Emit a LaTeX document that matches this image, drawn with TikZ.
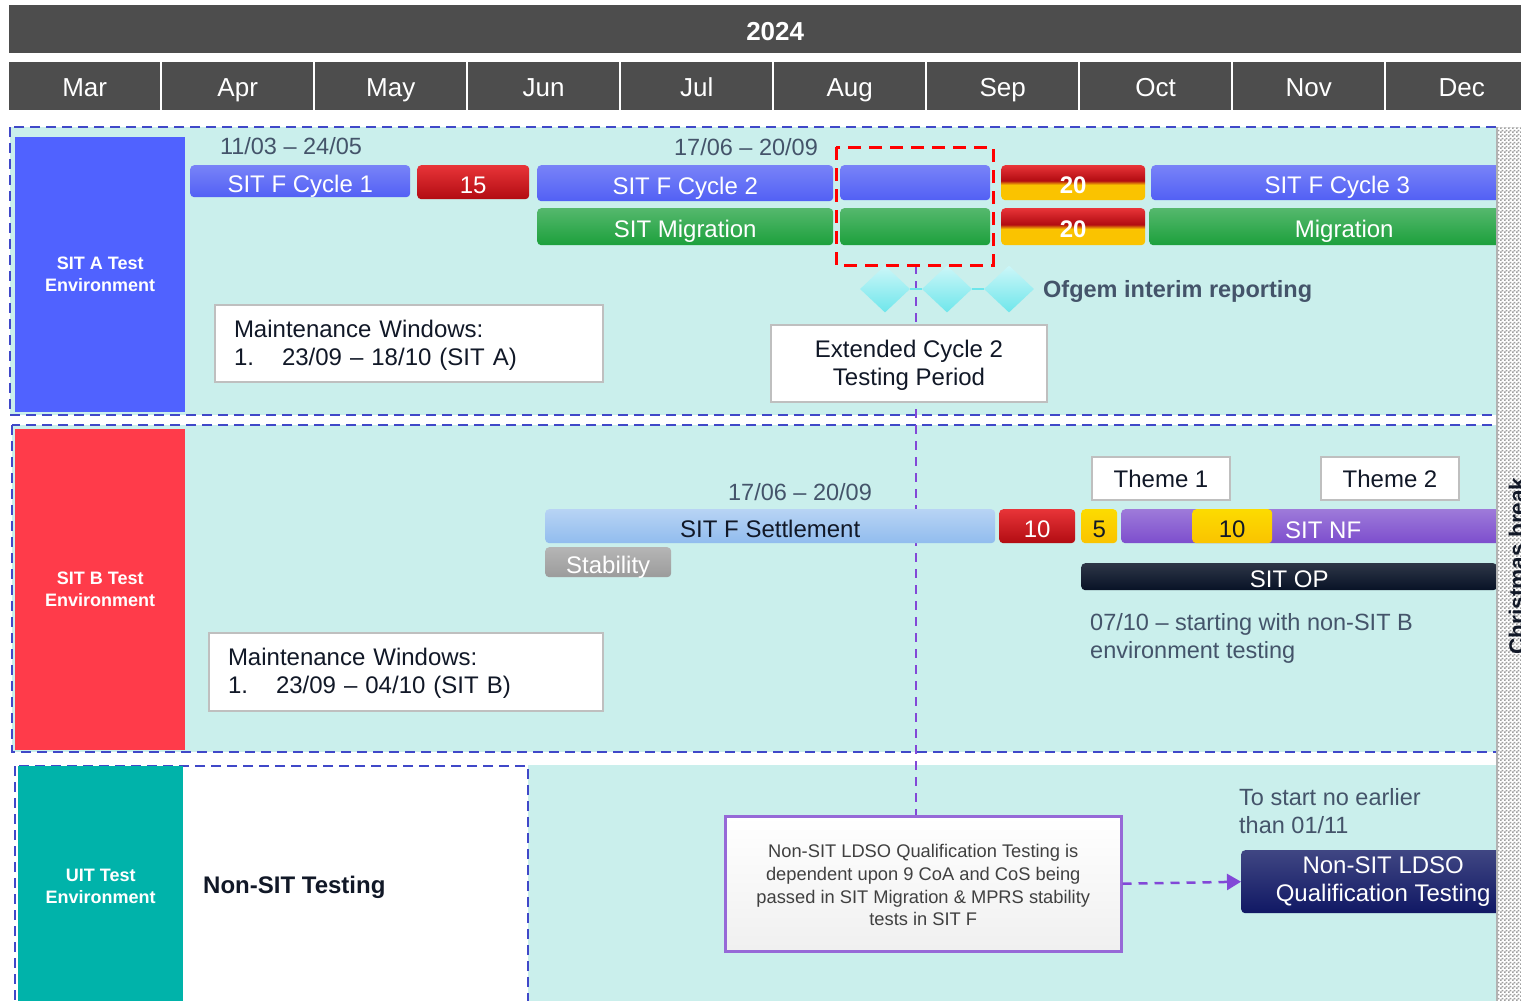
\documentclass[tikz,border=0pt]{standalone}
\usepackage{fontspec}
\setmainfont{Liberation Sans}
\usetikzlibrary{arrows.meta}
\usetikzlibrary{shapes.geometric, patterns}
\definecolor{hdrgray}{RGB}{77,77,77}
\definecolor{paneltea}{RGB}{202,239,236}
\definecolor{envblue}{RGB}{80,98,255}
\definecolor{envred}{RGB}{255,59,74}
\definecolor{envteal}{RGB}{0,179,170}
\definecolor{dashblue}{RGB}{64,72,200}
\definecolor{barblue}{RGB}{82,96,245}
\definecolor{bargreen}{RGB}{28,160,60}
\definecolor{barred}{RGB}{178,12,18}
\definecolor{barredtop}{RGB}{232,52,56}
\definecolor{bargold}{RGB}{250,195,0}
\definecolor{barsky}{RGB}{145,188,238}
\definecolor{barpurple}{RGB}{125,78,205}
\definecolor{barnavy}{RGB}{8,18,38}
\definecolor{ldsonavy}{RGB}{16,24,100}
\definecolor{slate}{RGB}{68,84,106}
\definecolor{inkdark}{RGB}{17,24,39}
\definecolor{vpurple}{RGB}{130,72,215}
\definecolor{notepurple}{RGB}{150,105,215}
\definecolor{gemcyan}{RGB}{110,230,235}
\pgfdeclareverticalshading{redgold}{100bp}{color(0bp)=(bargold); color(47bp)=(bargold); color(53bp)=(barred); color(75bp)=(barredtop); color(100bp)=(barredtop)}
\pgfdeclarepatternformonly{finechecker}{\pgfpointorigin}{\pgfqpoint{4pt}{4pt}}{\pgfqpoint{4pt}{4pt}}{%
	\pgfpathrectangle{\pgfpointorigin}{\pgfqpoint{2pt}{2pt}}%
	\pgfpathrectangle{\pgfqpoint{2pt}{2pt}}{\pgfqpoint{2pt}{2pt}}%
	\pgfusepath{fill}}

\begin{document}
\begin{tikzpicture}[x=1pt, y=-1pt,
	barbase/.style={rounded corners=4pt, anchor=north west, inner sep=0pt, text=white, font=\fontsize{24}{28}\selectfont},
	bar/.style={barbase, text height=22pt, text depth=0pt},
	bluebar/.style={bar, top color=barblue!78!white, bottom color=barblue},
	greenbar/.style={bar, top color=bargreen!75!white, bottom color=bargreen},
	redbar/.style={bar, top color=barredtop, bottom color=barred},
	goldbar/.style={bar, top color=bargold!60!yellow, bottom color=bargold, text=inkdark},
	splitbar/.style={bar, shading=redgold, font=\bfseries\fontsize{24}{28}\selectfont},
	skybar/.style={bar, top color=barsky!65!white, bottom color=barsky, text=inkdark},
	graybar/.style={bar, top color=gray!58, bottom color=gray!78},
	purplebar/.style={bar, top color=barpurple!75!white, bottom color=barpurple},
	navybar/.style={bar, top color=barnavy!85!white, bottom color=barnavy},
	month/.style={fill=hdrgray, anchor=north west, minimum width=151, minimum height=48, inner sep=0pt, text height=20pt, text depth=0pt, text=white, font=\fontsize{26}{26}\selectfont},
	panel/.style={draw=dashblue, line width=2.5pt, dash pattern=on 10pt off 6pt, fill=paneltea},
	envlabel/.style={anchor=north west, inner sep=0pt, align=center, text=white, font=\bfseries\fontsize{18}{22}\selectfont},
	wbox/.style={draw=gray!50, line width=2pt, fill=white, anchor=north west, inner sep=0pt, text=inkdark, font=\fontsize{24}{28}\selectfont},
	datetext/.style={text=slate, inner sep=0pt, font=\fontsize{23.5}{28}\selectfont},
	gem/.style={diamond, inner sep=0pt, minimum width=50, minimum height=47, top color=gemcyan!35!white, bottom color=gemcyan},
	vline/.style={vpurple, line width=2.5pt, dash pattern=on 9pt off 7pt}
]
	\useasboundingbox (0,0) rectangle (1521,1001);
	\clip (0,0) rectangle (1521,1001);

	% header
	\node[fill=hdrgray, anchor=north west, minimum width=1532, minimum height=48, inner sep=0pt, text height=22pt, text depth=0pt, text=white, font=\bfseries\fontsize{26}{26}\selectfont] (year) at (9,5) {2024};
	\foreach \m [count=\i from 0] in {Mar,Apr,May,Jun,Jul,Aug,Sep,Oct,Nov,Dec}
		\node[month] (m\i) at ({9+153*\i},62) {\m};

	% panels
	\draw[panel] (10,127) rectangle (1497,415);
	\draw[panel] (12,425) rectangle (1497,752);
	\fill[paneltea] (528,765) rectangle (1497,1001);
	\draw[panel, fill=white] (15,766) rectangle (528,1012);
	\node[envlabel, fill=envblue, minimum width=170, minimum height=275] (envA) at (15,137) {SIT A Test\\Environment};
	\node[envlabel, fill=envred, minimum width=170, minimum height=321] (envB) at (15,429) {SIT B Test\\Environment};
	\node[envlabel, fill=envteal, minimum width=165, minimum height=240] (envU) at (18,766) {UIT Test\\Environment};

	\coordinate (vtop) at (916,265);
	\coordinate (vbot) at (916,815);
	\draw[vline] (vtop) -- (vbot);

	% SIT A
	\node[datetext] (dA1) at (291,146) {11/03 -- 24/05};
	\node[datetext] (dA2) at (746,147) {17/06 -- 20/09};
	\node[bluebar, minimum width=220, minimum height=32] (cyc1) at (190,165) {SIT F Cycle 1};
	\node[redbar, minimum width=112, minimum height=34] (gap15) at (417,165) {15};
	\node[bluebar, minimum width=296, minimum height=36] (cyc2) at (537,165) {SIT F Cycle 2};
	\node[bluebar, minimum width=150, minimum height=35] (cyc2x) at (840,165) {};
	\node[splitbar, minimum width=144, minimum height=35] (gap20a) at (1001,165) {20};
	\node[bluebar, minimum width=372, minimum height=35] (cyc3) at (1151,165) {SIT F Cycle 3};
	\node[greenbar, minimum width=296, minimum height=37] (mig) at (537,208) {SIT Migration};
	\node[greenbar, minimum width=150, minimum height=37] (migx) at (840,208) {};
	\node[splitbar, minimum width=144, minimum height=37] (gap20b) at (1001,208) {20};
	\node[greenbar, minimum width=390, minimum height=37] (mig3) at (1149,208) {Migration};
	\draw[red, line width=3pt, dash pattern=on 13pt off 8pt] (836,147) rectangle (993,265);

	\foreach \x [count=\i] in {885,947,1009}
		\node[gem] (gem\i) at (\x,289) {};
	\draw[gemcyan, line width=2pt] (gem1.east) -- (gem2.west) (gem2.east) -- (gem3.west);
	\node[anchor=west, inner sep=0pt, text=slate, font=\bfseries\fontsize{23.5}{28}\selectfont] (ofgem) at (1043,291) {Ofgem interim reporting};

	\node[wbox, minimum width=388, minimum height=77, text width=350, inner xsep=19, align=left] (mwA) at (214,304) {\rule{0pt}{20pt}Maintenance Windows:\\1.\hspace{28pt}23/09 -- 18/10 (SIT A)};
	\node[wbox, minimum width=276, minimum height=77, align=center] (ext) at (770,324) {\rule{0pt}{20pt}Extended Cycle 2\\Testing Period};

	% SIT B
	\node[datetext] (dB) at (800,492) {17/06 -- 20/09};
	\node[wbox, minimum width=138, minimum height=43] (th1) at (1091,456) {Theme 1};
	\node[wbox, minimum width=138, minimum height=43] (th2) at (1320,456) {Theme 2};
	\node[skybar, minimum width=450, minimum height=34] (settle) at (545,509) {SIT F Settlement};
	\node[graybar, minimum width=126, minimum height=30] (stab) at (545,547) {Stability};
	\node[redbar, minimum width=76, minimum height=34] (gap10) at (999,509) {10};
	\node[goldbar, minimum width=36, minimum height=34] (gap5) at (1081,509) {5};
	\node[purplebar, minimum width=419, minimum height=34] (nf) at (1121,509) {};
	\node[goldbar, minimum width=80, minimum height=34] (nf10) at (1192,509) {10};
	\node[anchor=base west, inner sep=0pt, text=white, font=\fontsize{24}{28}\selectfont] (nflbl) at (1285,538) {SIT NF};
	\node[navybar, minimum width=416, minimum height=27] (op) at (1081,563) {SIT OP};
	\node[datetext, anchor=west, align=left] (opnote) at (1090,638) {07/10 -- starting with non-SIT B\\environment testing};
	\node[wbox, minimum width=394, minimum height=78, text width=356, inner xsep=19, align=left] (mwB) at (208,632) {\rule{0pt}{20pt}Maintenance Windows:\\1.\hspace{28pt}23/09 -- 04/10 (SIT B)};

	% UIT
	\node[anchor=west, inner sep=0pt, text=inkdark, font=\bfseries\fontsize{24}{28}\selectfont] (nonsit) at (203,887) {Non-SIT Testing};
	\node[anchor=north west, minimum width=396, minimum height=135, inner sep=0pt, draw=notepurple, line width=2.5pt, top color=white, bottom color=gray!12, align=center, text=black!75, font=\fontsize{18.3}{22.7}\selectfont] (note) at (724,815) {\rule{0pt}{16pt}Non-SIT LDSO Qualification Testing is\\dependent upon 9 CoA and CoS being\\passed in SIT Migration \& MPRS stability\\tests in SIT F};
	\node[datetext, anchor=west, align=left] (nostart) at (1239,811) {To start no earlier\\than 01/11};
	\node[barbase, top color=ldsonavy!80!white, bottom color=ldsonavy, minimum width=284, minimum height=63, align=center] (ldso) at (1241,850) {Non-SIT LDSO\\Qualification Testing};
	\draw[vline, -{Triangle[length=14pt, width=16pt]}] (note.east) -- (ldso.west);

	% christmas break
	\fill[white] (1497,127) rectangle (1521,1001);
	\fill[pattern=finechecker, pattern color=gray!75] (1497,127) rectangle (1521,1001);
	\draw[gray!60, line width=1.5pt] (1497,127) -- (1497,1001);
	\node[rotate=90, inner sep=0pt, text=inkdark, font=\bfseries\fontsize{22.6}{26}\selectfont] (xmas) at (1517,566) {Christmas break};
\end{tikzpicture}
\end{document}
